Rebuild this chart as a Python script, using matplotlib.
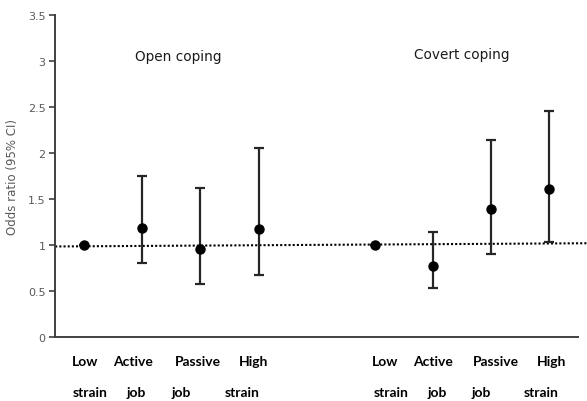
import numpy as np
import matplotlib.pyplot as plt
from matplotlib.transforms import blended_transform_factory

# Data
groups = ['Open coping', 'Covert coping']
top_words = ['Low', 'Active', 'Passive', 'High']
bottom_words = ['strain', 'job', 'job', 'strain']

open_or = [1.0, 1.19, 0.96, 1.18]
open_lo = [1.0, 0.80, 0.58, 0.67]
open_hi = [1.0, 1.75, 1.62, 2.05]

covert_or = [1.0, 0.77, 1.39, 1.61]
covert_lo = [1.0, 0.53, 0.90, 1.03]
covert_hi = [1.0, 1.14, 2.14, 2.46]

ref_line = [0.985, 1.02]

x_open = np.arange(4)
x_covert = np.arange(4) + 5

fig = plt.figure(figsize=(5.87, 4.02), dpi=100)
ax = fig.add_axes([0.094, 0.159, 0.891, 0.801])

dark = '#262626'
for xs, ors, lo, hi in [(x_open, open_or, open_lo, open_hi),
                        (x_covert, covert_or, covert_lo, covert_hi)]:
    ors = np.array(ors)
    err = [ors - np.array(lo), np.array(hi) - ors]
    ax.errorbar(xs, ors, yerr=err, fmt='o', color='black', ms=6.5,
                ecolor=dark, elinewidth=1.6, capsize=3.5, capthick=1.6, zorder=3)

# reference line at OR = 1
ax.plot([-0.5, 8.65], ref_line, ls=(0, (1, 1)), color='black', lw=1.5,
        clip_on=False, zorder=2)

ax.set_xlim(-0.5, 8.5)
ax.set_ylim(0, 3.5)
ax.set_yticks(np.arange(0, 3.51, 0.5))
ax.set_yticklabels(['0', '0.5', '1', '1.5', '2', '2.5', '3', '3.5'])
ax.set_xticks([])
ax.tick_params(axis='y', colors='#595959', labelsize=8, length=4, width=1.2, pad=3)
ax.tick_params(axis='y', color='#404040')
ax.set_ylabel('Odds ratio (95% CI)', color='#595959', fontsize=8.5, labelpad=6)

for s in ['top', 'right']:
    ax.spines[s].set_visible(False)
for s in ['left', 'bottom']:
    ax.spines[s].set_color('#404040')
    ax.spines[s].set_linewidth(1.4)

# group titles
ax.text(1.62, 3.06, groups[0], ha='center', va='center', fontsize=9.8, color='#1a1a1a')
ax.text(6.5, 3.08, groups[1], ha='center', va='center', fontsize=9.8, color='#1a1a1a')

# category labels in two rows
trans = blended_transform_factory(ax.transData, ax.transAxes)
shifts = {
    'open': ([0.02, -0.16, -0.05, -0.09], [0.10, -0.10, -0.33, -0.28]),
    'covert': ([0.17, 0.0, 0.09, 0.05], [0.28, 0.07, -0.17, -0.14]),
}
for key, base in [('open', x_open), ('covert', x_covert)]:
    top_shift, bottom_shift = shifts[key]
    for i in range(4):
        ax.text(base[i] + top_shift[i], -0.074, top_words[i], transform=trans,
                ha='center', va='center', fontsize=10, fontweight='bold',
                family='Lato', color='black')
        ax.text(base[i] + bottom_shift[i], -0.17, bottom_words[i], transform=trans,
                ha='center', va='center', fontsize=10, fontweight='bold',
                family='Lato', color='black')

fig.savefig('out.png', dpi=100)
